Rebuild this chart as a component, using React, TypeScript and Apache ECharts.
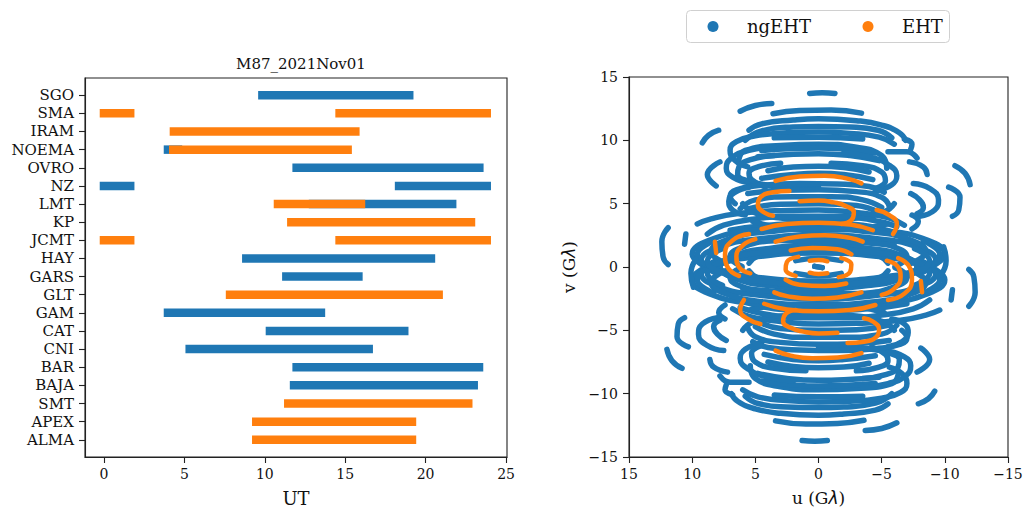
import React, { useEffect, useRef } from 'react';
import * as echarts from 'echarts';

const stations = ['SGO', 'SMA', 'IRAM', 'NOEMA', 'OVRO', 'NZ', 'LMT', 'KP', 'JCMT', 'HAY', 'GARS', 'GLT', 'GAM', 'CAT', 'CNI', 'BAR', 'BAJA', 'SMT', 'APEX', 'ALMA'];

// [station, start UT, end UT]
const ngehtBars: [string, number, number][] = [
  ['SGO', 9.85, 18.98],
  ['NOEMA', 3.98, 4.6],
  ['OVRO', 11.98, 23.34],
  ['NZ', 0.0, 1.63],
  ['NZ', 18.35, 23.8],
  ['LMT', 13.0, 21.65],
  ['HAY', 8.85, 20.33],
  ['GARS', 11.34, 15.82],
  ['GAM', 3.98, 13.49],
  ['CAT', 10.32, 18.67],
  ['CNI', 5.33, 16.46],
  ['BAR', 11.98, 23.32],
  ['BAJA', 11.82, 22.99],
];

const ehtBars: [string, number, number][] = [
  ['SMA', 0.0, 1.63],
  ['SMA', 14.65, 23.8],
  ['IRAM', 4.35, 15.63],
  ['NOEMA', 4.31, 15.15],
  ['LMT', 10.82, 15.98],
  ['KP', 11.65, 22.82],
  ['JCMT', 0.0, 1.63],
  ['JCMT', 14.65, 23.8],
  ['GLT', 7.84, 20.81],
  ['SMT', 11.46, 22.65],
  ['APEX', 9.47, 19.15],
  ['ALMA', 9.47, 19.15],
];

const utTicks = [0, 5, 10, 15, 20, 25];

// uv tracks (u, v in Gλ); each track's conjugate (-u, -v) is also plotted
const ngehtTracks: number[][][] = [
  [[0.7, 13.7], [-0.3, 13.75], [-1.3, 13.7]],
  [[6.2, 12.3], [5.0, 12.75], [3.7, 12.9]],
  [[3.6, 12.1], [1.5, 12.35], [-1, 12.4], [-3.4, 12.15]],
  [[5.5, 10.8], [4.5, 11.3], [2, 11.6], [0, 11.7], [-3, 11.55], [-5, 11.2], [-6.4, 10.6], [-6.9, 10.0]],
  [[5.8, 10.0], [4.5, 10.75], [2, 11.05], [0, 11.1], [-2.5, 11.05], [-4.7, 10.8], [-5.8, 10.2]],
  [[5.6, 7.9], [6.6, 8.4], [7.0, 9.2], [6.5, 9.9], [5, 10.35], [2.5, 10.6], [0, 10.65], [-2.5, 10.55], [-4.8, 10.25], [-6.0, 9.7]],
  [[6.3, 8.5], [5.8, 9.2], [3, 9.6], [0, 9.7], [-3, 9.45], [-5, 8.8], [-5.4, 7.8]],
  [[3.5, 10.2], [0, 10.25], [-3.5, 10.1]],
  [[4.5, 9.2], [2, 9.35], [0, 9.4], [-2, 9.3], [-4.5, 9.0]],
  [[4.8, 8.7], [2, 8.9], [0, 8.95], [-2.5, 8.8], [-4.8, 8.4]],
  [[3.5, 9.5], [5.5, 9.2], [6.9, 8.6], [7.3, 7.8], [6.8, 7.1], [5.2, 6.6], [3, 6.4], [0, 6.3]],
  [[3.5, 8.8], [5.3, 8.5], [6.3, 7.9], [6.4, 7.3], [5.6, 6.8], [4.2, 6.5]],
  [[3.0, 8.2], [4.8, 7.9], [5.5, 7.4], [5.3, 6.9], [4.2, 6.3]],
  [[-2, 9.0], [-4, 8.7], [-5.5, 8.1], [-6.2, 7.2], [-5.8, 6.5], [-4.5, 6.0]],
  [[-1, 8.2], [-3.5, 8.0], [-5.0, 7.5], [-5.3, 6.8], [-4.5, 6.2]],
  [[4, 7.6], [2, 7.9], [0, 7.95], [-2, 7.85], [-4, 7.5]],
  [[4.5, 7.0], [2, 7.3], [0, 7.4], [-2, 7.3], [-4.3, 6.9]],
  [[9.2, 9.8], [8.7, 10.4], [7.9, 10.8]],
  [[8.1, 6.4], [8.8, 7.3], [7.8, 8.3]],
  [[11.9, 3.1], [12.4, 2.0], [12.3, 0.8], [11.9, 0.2]],
  [[10.5, 2.6], [10.6, 1.8]],
  [[-5.5, 9.1], [-7.0, 9.1], [-7.8, 8.6]],
  [[-7.2, 8.3], [-8.3, 7.9], [-8.6, 7.3]],
  [[-7.5, 6.6], [-8.8, 6.2], [-9.5, 5.3], [-9.2, 4.5], [-8.0, 4.0]],
  [[-7.3, 5.8], [-8.0, 5.3], [-8.3, 4.7], [-7.8, 4.2]],
  [[-7.4, 4.1], [-7.9, 3.6], [-7.4, 3.0]],
  [[-10.8, 8.0], [-11.6, 7.4], [-12.0, 6.5]],
  [[-10.3, 6.3], [-11.2, 5.5], [-11.1, 4.5], [-10.6, 4.0]],
  [[-6.8, 10.1], [-7.4, 9.7], [-7.3, 9.3]],
  [[6.6, 5.0], [7.0, 5.6], [6.5, 6.1], [4.5, 6.45], [1.5, 6.6], [-1.5, 6.55], [-4.0, 6.35], [-5.2, 5.9]],
  [[5.6, 5.8], [3, 6.05], [0, 6.1], [-3, 5.95], [-5, 5.5], [-5.6, 4.8]],
  [[6.2, 4.6], [5, 5.3], [2, 5.55], [-1, 5.55], [-3.5, 5.3], [-5.0, 4.7]],
  [[5.5, 4.6], [3, 4.95], [0, 5.0], [-3, 4.85], [-4.8, 4.3]],
  [[6, 5], [5.2, 4.35], [3, 3.87], [0, 3.7], [-3, 3.87], [-5.2, 4.35], [-6, 5]],
  [[9.6, 3.4], [8.5, 3.8], [6.5, 4.2], [3, 4.45], [0, 4.5], [-3, 4.3], [-5.5, 3.9], [-6.8, 3.3]],
  [[8.8, 2.6], [7.5, 3.3], [5, 3.8], [2, 4.0], [-1, 4.0], [-4, 3.75], [-6.2, 3.2]],
  [[7, 2.9], [4, 3.3], [0, 3.5], [-3.5, 3.3], [-6, 2.7]],
  [[5.2, 3.6], [3, 3.1], [0, 2.9], [-3, 3.0], [-5.5, 3.4]],
  [[5.5, 6.3], [6.6, 5.9], [7.1, 5.2], [6.8, 4.5], [5.8, 4.1]],
  [[8.66, -0.1], [10, 1.0], [8.66, 2.1], [5, 2.9], [0, 3.2], [-5, 2.9], [-8.66, 2.1], [-10, 1.0], [-8.66, -0.1]],
  [[8.05, -0.5], [9.3, 0.5], [8.05, 1.5], [4.65, 2.23], [0, 2.5], [-4.65, 2.23], [-8.05, 1.5], [-9.3, 0.5], [-8.05, -0.5]],
  [[7.36, 0.3], [8.5, 1.2], [7.36, 2.1], [4.25, 2.76], [0, 3.0], [-4.25, 2.76], [-7.36, 2.1], [-8.5, 1.2], [-7.36, 0.3]],
  [[6.75, -0.85], [7.8, 0], [6.75, 0.85], [3.9, 1.47], [0, 1.7], [-3.9, 1.47], [-6.75, 0.85], [-7.8, 0], [-6.75, -0.85]],
  [[6.06, 0.05], [7, 0.8], [6.06, 1.55], [3.5, 2.1], [0, 2.3], [-3.5, 2.1], [-6.06, 1.55], [-7, 0.8], [-6.06, 0.05]],
  [[6, 2.0], [3, 2.1], [0, 2.05], [-3, 1.95], [-6, 1.7]],
  [[5.5, 0.3], [4.76, 0.9], [2.75, 1.34], [0, 1.5], [-2.75, 1.34], [-4.76, 0.9], [-5.5, 0.3]],
  [[8.3, -2.05], [9.6, -1.0], [8.3, 0.05], [4.8, 0.82], [0, 1.1], [-4.8, 0.82], [-8.3, 0.05], [-9.6, -1.0], [-8.3, -2.05]],
  [[7.6, -1.45], [8.8, -0.5], [7.6, 0.45], [4.4, 1.15], [0, 1.4], [-4.4, 1.15], [-7.6, 0.45], [-8.8, -0.5], [-7.6, -1.45]],
  [[9.9, -1.6], [10.1, -0.5], [9.7, 0.6]],
  [[1.8, 0.5], [0, 0.7], [-1.8, 0.5]],
  [[0.3, 0.05], [-0.3, -0.05]],
];

const ehtTracks: number[][][] = [
  [[3.4, 6.8], [1.5, 7.15], [-0.5, 7.2], [-2.2, 7.0], [-3.4, 6.6]],
  [[2.3, 6.0], [3.6, 5.9], [4.6, 5.5], [4.8, 4.9], [4.3, 4.3], [3.6, 4.05]],
  [[1.5, 5.2], [0, 5.25], [-1.2, 5.1], [-2.2, 4.8], [-2.8, 4.3], [-2.6, 3.7], [-1.8, 3.4]],
  [[-4.6, 4.5], [-5.6, 4.1], [-6.2, 3.4], [-5.9, 2.6]],
  [[4.5, 3.0], [2.5, 3.4], [0, 3.5], [-2.5, 3.35], [-4.3, 2.9]],
  [[5.5, 2.6], [6.8, 2.1], [7.4, 1.0], [7.2, 0.0], [6.3, -0.7]],
  [[5.0, 2.2], [6.0, 1.7], [6.5, 0.8], [6.3, 0.0], [5.4, -0.5]],
  [[3.4, 2.0], [1.5, 2.4], [-0.5, 2.5], [-2.5, 2.3], [-3.5, 2.0]],
  [[2.2, 1.3], [0.5, 1.5], [-1.5, 1.4], [-2.6, 1.0]],
  [[1.6, 0.8], [2.5, 0.4], [2.6, -0.2], [1.8, -0.7]],
  [[0.7, 0.5], [0, 0.55], [-0.7, 0.45]],
  [[8.2, 2.0], [8.1, 1.1]],
];

const uvTickStep = 5;

const BLUE = '#1f77b4';
const ORANGE = '#ff7f0e';
const FONT = 'DejaVu Serif';

const fmtMinus = (v: number) => (v < 0 ? '\u2212' + Math.abs(v) : String(v));

function withConjugates(tracks: number[][][]) {
  const out: number[][][] = [];
  tracks.forEach((t) => {
    out.push(t);
    out.push(t.map(([u, v]) => [-u, -v]));
  });
  return out;
}

function barSeries(bars: [string, number, number][], color: string, z: number) {
  return {
    type: 'custom',
    xAxisIndex: 0,
    yAxisIndex: 0,
    z,
    silent: true,
    encode: { x: [1, 2], y: 0 },
    data: bars.map(([s, a, b]) => [stations.indexOf(s), a, b]),
    renderItem: (_p: any, api: any) => {
      const idx = api.value(0);
      const p1 = api.coord([api.value(1), idx]);
      const p2 = api.coord([api.value(2), idx]);
      return {
        type: 'line',
        shape: { x1: p1[0], y1: p1[1], x2: p2[0], y2: p2[1] },
        style: { stroke: color, lineWidth: 8.5, lineCap: 'square' },
      };
    },
  };
}

function trackSeries(tracks: number[][][], color: string, width: number, z: number, name: string) {
  return withConjugates(tracks).map((t) => ({
    type: 'line',
    name,
    xAxisIndex: 1,
    yAxisIndex: 1,
    data: t,
    smooth: 0.5,
    showSymbol: false,
    symbol: 'none',
    silent: true,
    z,
    lineStyle: { color, width, cap: 'round', join: 'round' },
  }));
}

export default function App() {
  const ref = useRef<HTMLDivElement>(null);
  useEffect(() => {
    if (!ref.current) return;
    const chart = echarts.init(ref.current, undefined, { renderer: 'svg' });
    const axisLine = { show: true, onZero: false, lineStyle: { color: '#222', width: 1.1 } };
    const axisTick = { show: true, length: 6, lineStyle: { color: '#222', width: 1.1 } };
    const stationIdx = stations.map((_, i) => i);
    chart.setOption({
      animation: false,
      backgroundColor: '#fff',
      title: {
        text: 'M87_2021Nov01',
        left: 296,
        top: 51,
        textAlign: 'center',
        textStyle: { fontFamily: FONT, fontSize: 15, fontWeight: 'normal', color: '#111' },
      },
      grid: [
        { left: 85, top: 78, width: 422, height: 379, show: true, borderColor: '#222', borderWidth: 1.1, backgroundColor: 'transparent', containLabel: false, outerBoundsMode: 'none' },
        { left: 629, top: 77, width: 379, height: 380, show: true, borderColor: '#222', borderWidth: 1.1, backgroundColor: 'transparent', containLabel: false, outerBoundsMode: 'none' },
      ],
      xAxis: [
        {
          gridIndex: 0,
          type: 'value',
          min: -1.18,
          max: 25.06,
          axisLine,
          axisTick: { ...axisTick, customValues: utTicks },
          splitLine: { show: false },
          axisLabel: { customValues: utTicks, margin: 10, fontFamily: FONT, fontSize: 14, color: '#111' },
          name: 'UT',
          nameLocation: 'middle',
          nameGap: 32,
          nameTextStyle: { fontFamily: FONT, fontSize: 18, color: '#111' },
        },
        {
          gridIndex: 1,
          type: 'value',
          min: -15,
          max: 15,
          interval: uvTickStep,
          inverse: true,
          axisLine,
          axisTick,
          splitLine: { show: false },
          axisLabel: { margin: 10, fontFamily: FONT, fontSize: 14, color: '#111', formatter: fmtMinus },
          name: 'u (G{i|λ})',
          nameLocation: 'middle',
          nameGap: 32,
          nameTextStyle: {
            fontFamily: FONT,
            fontSize: 17,
            color: '#111',
            rich: { i: { fontFamily: 'DejaVu Sans', fontStyle: 'italic', fontSize: 17, color: '#111' } },
          },
        },
      ],
      yAxis: [
        {
          gridIndex: 0,
          type: 'value',
          min: -0.95,
          max: 19.95,
          inverse: true,
          axisLine,
          axisTick: { ...axisTick, customValues: stationIdx },
          splitLine: { show: false },
          axisLabel: {
            customValues: stationIdx,
            margin: 11,
            fontFamily: FONT,
            fontSize: 15,
            color: '#111',
            formatter: (v: number) => stations[Math.round(v)] ?? '',
          },
        },
        {
          gridIndex: 1,
          type: 'value',
          min: -15,
          max: 15,
          interval: uvTickStep,
          axisLine,
          axisTick,
          splitLine: { show: false },
          axisLabel: { margin: 11, fontFamily: FONT, fontSize: 14, color: '#111', formatter: fmtMinus },
          name: 'v (G{i|λ})',
          nameLocation: 'middle',
          nameGap: 52,
          nameRotate: 90,
          nameTextStyle: {
            fontFamily: FONT,
            fontSize: 17,
            color: '#111',
            rich: { i: { fontFamily: 'DejaVu Sans', fontStyle: 'italic', fontSize: 17, color: '#111' } },
          },
        },
      ],
      graphic: [
        {
          type: 'rect',
          shape: { x: 686.5, y: 10.5, width: 263, height: 32, r: 4 },
          style: { fill: 'rgba(255,255,255,0.85)', stroke: '#d0d0d0', lineWidth: 1 },
          z: 100,
        },
        { type: 'circle', shape: { cx: 713, cy: 26.5, r: 5.5 }, style: { fill: BLUE }, z: 101 },
        {
          type: 'text',
          x: 747,
          y: 26.5,
          style: { text: 'ngEHT', fontFamily: FONT, fontSize: 18, fill: '#111', verticalAlign: 'middle', align: 'left' },
          z: 101,
        },
        { type: 'circle', shape: { cx: 868, cy: 26.5, r: 5.5 }, style: { fill: ORANGE }, z: 101 },
        {
          type: 'text',
          x: 902,
          y: 26.5,
          style: { text: 'EHT', fontFamily: FONT, fontSize: 18, fill: '#111', verticalAlign: 'middle', align: 'left' },
          z: 101,
        },
      ],
      series: [
        barSeries(ngehtBars, BLUE, 2),
        barSeries(ehtBars, ORANGE, 3),
        ...trackSeries(ngehtTracks, BLUE, 5.5, 2, 'ngEHT'),
        ...trackSeries(ehtTracks, ORANGE, 4.5, 3, 'EHT'),
      ],
    });
    return () => chart.dispose();
  }, []);
  return <div ref={ref} style={{ position: 'fixed', left: 0, top: 0, width: 1024, height: 508 }} />;
}
